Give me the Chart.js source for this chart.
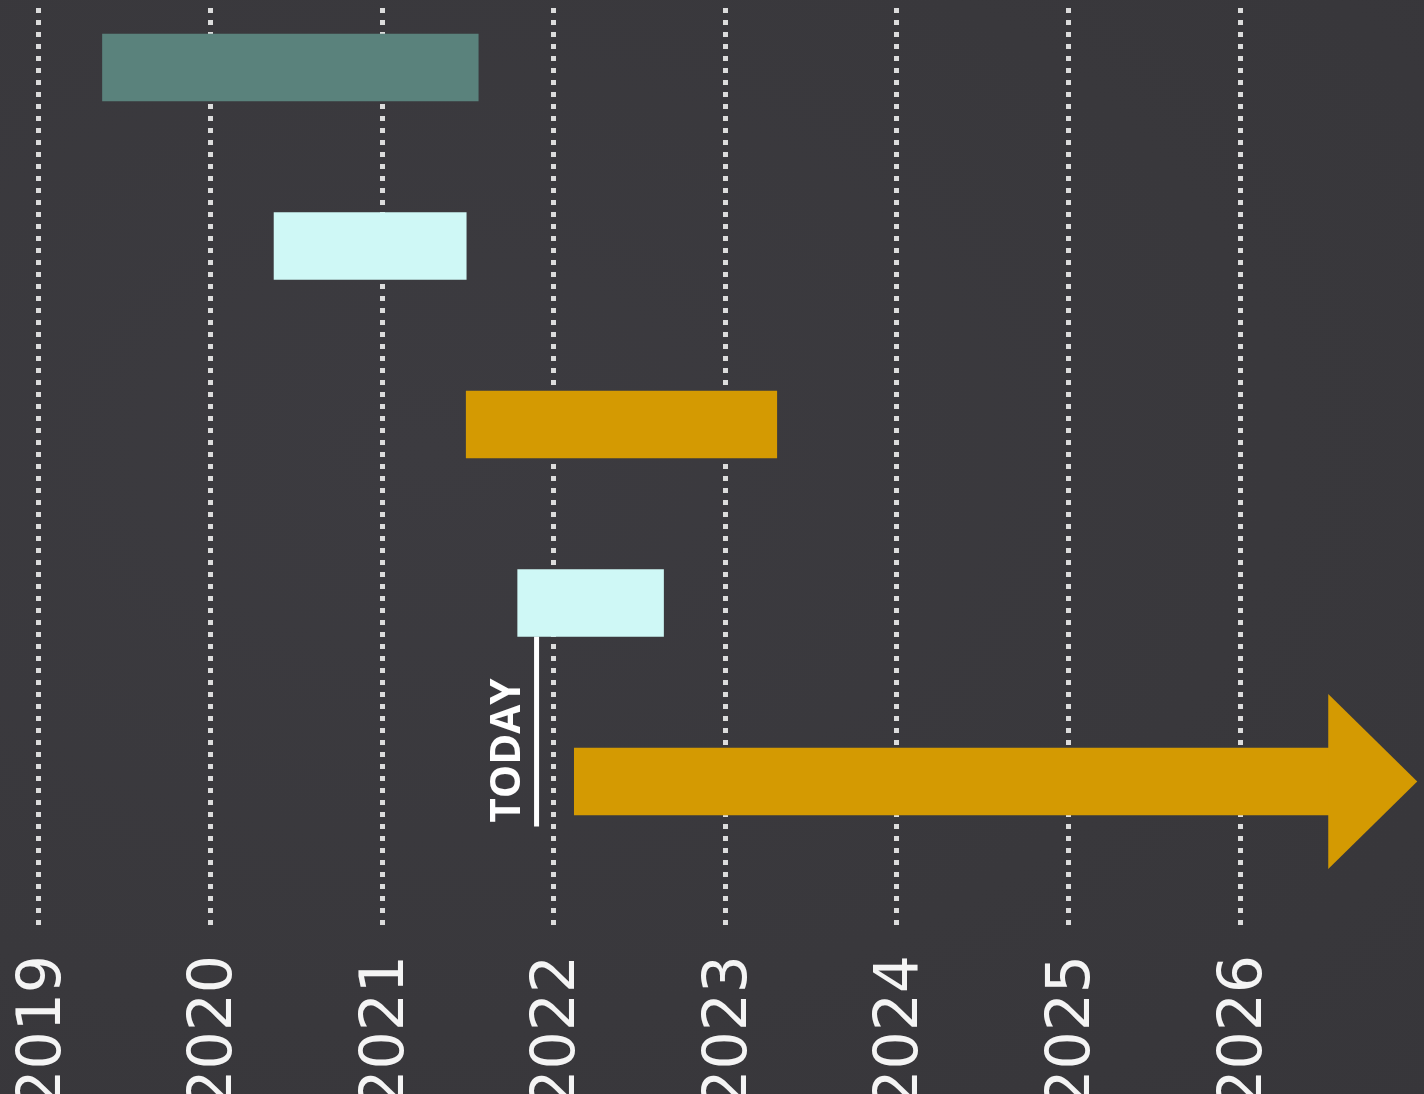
<!DOCTYPE html>
<html lang="en">
<head>
  <meta charset="UTF-8">
  <title>Timeline</title>
  <style>
    html, body {
      margin: 0;
      padding: 0;
      overflow: hidden;
      background: #3a393d;
    }
    .container {
      position: absolute;
      left: 0;
      top: 0;
      width: 1424px;
      height: 1130px;
      background: radial-gradient(ellipse at 30% 40%, #3c3b40 0%, #39383c 60%, #37363a 100%);
    }
  </style>
  <script src="https://cdn.jsdelivr.net/npm/chart.js@4.4.1/dist/chart.umd.min.js"></script>
</head>
<body>
  <div class="container">
    <canvas id="timeline"></canvas>
  </div>

  <script>
    // Data
    const years = [2019, 2020, 2021, 2022, 2023, 2024, 2025, 2026];
    const rows = [0, 1, 2, 3, 4];
    const starts = [2019.37, 2020.37, 2021.49, 2021.79, 2022.12];
    const ends = [2021.56, 2021.49, 2023.30, 2022.64, 2026.52];
    const colors = ['#5a827c', '#cff8f6', '#d49a02', '#cff8f6', '#d49a02'];
    const today = 2021.9;
    const todayLabel = 'TODAY';

    const arrowIndex = 4; // the last bar carries on past the axis

    // arrow head + "today" marker
    const extras = {
      id: 'extras',
      beforeDatasetsDraw(chart) {
        const ctx = chart.ctx;
        const x = chart.scales.x.getPixelForValue(today);
        const bar = chart.getDatasetMeta(0).data[3];
        const y0 = bar.y + bar.height / 2;
        const y1 = y0 + 190;
        ctx.save();
        ctx.strokeStyle = '#ffffff';
        ctx.lineWidth = 5;
        ctx.beginPath();
        ctx.moveTo(x, y0);
        ctx.lineTo(x, y1);
        ctx.stroke();

        ctx.translate(x - 29, y1 - 4);
        ctx.rotate(-Math.PI / 2);
        ctx.fillStyle = '#ffffff';
        ctx.font = 'bold 42px "Open Sans"';
        ctx.textAlign = 'left';
        ctx.textBaseline = 'middle';
        ctx.fillText(todayLabel, 0, 0);
        ctx.restore();
      },
      afterDatasetsDraw(chart) {
        const ctx = chart.ctx;
        const bar = chart.getDatasetMeta(0).data[arrowIndex];
        const half = 87.5;
        ctx.save();
        ctx.fillStyle = colors[arrowIndex];
        ctx.beginPath();
        ctx.moveTo(bar.x - 1, bar.y - half);
        ctx.lineTo(bar.x + 88, bar.y);
        ctx.lineTo(bar.x - 1, bar.y + half);
        ctx.closePath();
        ctx.fill();
        ctx.restore();
      }
    };

    const ctx = document.getElementById('timeline').getContext('2d');

    const chart = new Chart(ctx, {
      type: 'bar',
      data: {
        datasets: [
          {
            data: rows.map((r, i) => ({ x: [starts[i], ends[i]], y: r })),
            backgroundColor: colors,
            borderWidth: 0,
            borderSkipped: false,
            barThickness: 67,
          },
        ],
      },
      options: {
        indexAxis: 'y',
        responsive: true,
        maintainAspectRatio: false,
        animation: false,
        devicePixelRatio: 1,
        layout: {
          padding: { top: 8, left: 0, right: 0, bottom: 0 },
        },
        plugins: {
          legend: { display: false },
          tooltip: { enabled: false },
        },
        scales: {
          x: {
            type: 'linear',
            position: 'bottom',
            min: 2018.7727,
            max: 2027.0723,
            afterBuildTicks: (scale) => {
              scale.ticks = years.map(v => ({ value: v }));
            },
            afterFit: (scale) => {
              scale.height = 1130 - 925;
            },
            grid: {
              color: '#dcdcdc',
              lineWidth: 5,
              drawTicks: false,
            },
            border: {
              display: false,
              dash: [5, 7],
            },
            ticks: {
              color: '#f4f4f4',
              font: { family: 'DejaVu Sans', size: 60 },
              minRotation: 90,
              maxRotation: 90,
              padding: 30,
              labelOffset: 5,
              autoSkip: false,
              callback: (v) => String(v),
            },
          },
          y: {
            type: 'linear',
            display: false,
            reverse: true,
            offset: false,
            min: -0.3333,
            max: 4.804,
          },
        },
      },
      plugins: [extras],
    });
  </script>
</body>
</html>
